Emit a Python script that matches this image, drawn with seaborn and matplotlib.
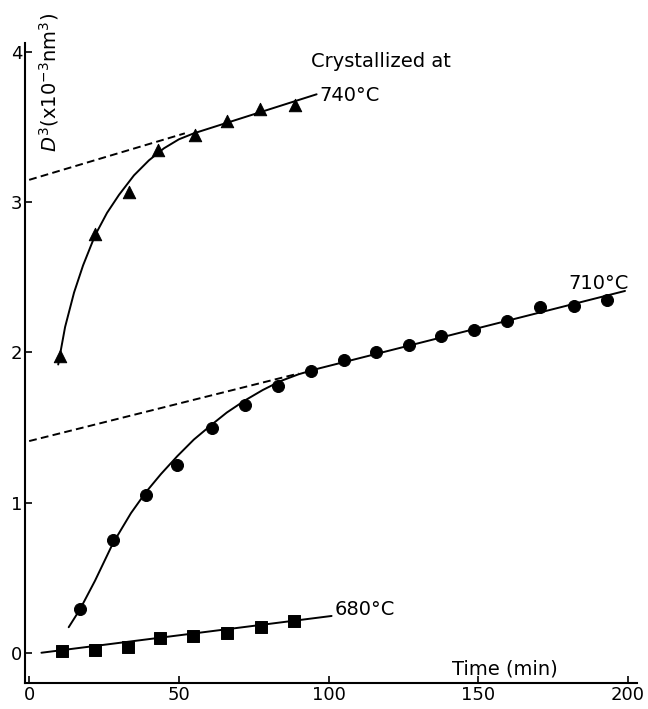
import numpy as np
import pandas as pd
import matplotlib
matplotlib.use("Agg")
import matplotlib.pyplot as plt
import seaborn as sns

time_680 = [10.8, 21.9, 33.0, 43.7, 54.7, 66.0, 77.3, 88.3]
d3_680 = [0.01, 0.02, 0.04, 0.10, 0.11, 0.13, 0.17, 0.21]

time_710 = [17, 28, 39, 49.5, 61, 72, 83, 94, 105, 116, 127, 137.5, 148.5, 159.5, 170.5, 182, 193]
d3_710 = [0.29, 0.75, 1.05, 1.25, 1.50, 1.65, 1.78, 1.88, 1.95, 2.00, 2.05, 2.11, 2.15, 2.21, 2.30, 2.31, 2.35]

time_740 = [10.3, 22, 33.3, 43, 55.3, 66, 77, 88.7]
d3_740 = [1.98, 2.79, 3.07, 3.35, 3.45, 3.54, 3.62, 3.65]

# === Hand-drawn fit curves (traced) ===
fit_680_x = [4.1, 101]
fit_680_y = [0.0, 0.245]

fit_710_x = [13.2, 17, 22, 28, 34, 39, 44, 49.5, 55, 61, 66, 72, 78, 84, 90, 96, 199]
fit_710_y = [0.17, 0.29, 0.48, 0.73, 0.93, 1.07, 1.19, 1.31, 1.42, 1.52, 1.60, 1.68, 1.75, 1.81, 1.855, 1.89, 2.41]

fit_740_x = [9.7, 12, 15, 18, 22, 26, 30, 35, 40, 45, 50, 55, 96]
fit_740_y = [1.92, 2.17, 2.40, 2.58, 2.78, 2.93, 3.05, 3.18, 3.28, 3.36, 3.42, 3.46, 3.72]

# extrapolated linear parts back to t = 0
dash_710_x = [0, 90]
dash_710_y = [1.41, 1.86]
dash_740_x = [0, 52]
dash_740_y = [3.15, 3.46]

x_ticks = [0, 50, 100, 150, 200]
y_ticks = [0, 1, 2, 3, 4]

# === Plot ===
sns.set_style("ticks")
plt.rcParams['font.family'] = ['DejaVu Sans']
plt.rcParams['text.color'] = 'black'
plt.rcParams['xtick.color'] = 'black'
plt.rcParams['ytick.color'] = 'black'
plt.rcParams['axes.edgecolor'] = 'black'

fig = plt.figure(figsize=(6.48, 7.09), dpi=100)
ax = fig.add_axes([0.039, 0.037, 0.944, 0.902])

lw = 1.4
for fx, fy in [(fit_680_x, fit_680_y), (fit_710_x, fit_710_y), (fit_740_x, fit_740_y)]:
    sns.lineplot(x=fx, y=fy, ax=ax, color="black", lw=lw, sort=False, estimator=None)
for dx, dy in [(dash_710_x, dash_710_y), (dash_740_x, dash_740_y)]:
    sns.lineplot(x=dx, y=dy, ax=ax, color="black", lw=lw, sort=False, estimator=None,
                 linestyle=(0, (4, 2.2)))

sns.scatterplot(x=time_680, y=d3_680, ax=ax, marker="s", s=75, color="black", edgecolor="black", zorder=3)
sns.scatterplot(x=time_710, y=d3_710, ax=ax, marker="o", s=75, color="black", edgecolor="black", zorder=3)
sns.scatterplot(x=time_740, y=d3_740, ax=ax, marker="^", s=80, color="black", edgecolor="black", zorder=3)

ax.set_xlim(-1.3, 203)
ax.set_ylim(-0.2, 4.06)
ax.set_xticks(x_ticks)
ax.set_yticks(y_ticks)
ax.tick_params(direction="in", length=5, width=1.2, labelsize=13, pad=2)
sns.despine(ax=ax)
for sp in ["left", "bottom"]:
    ax.spines[sp].set_linewidth(1.5)
ax.set_xlabel("")
ax.set_ylabel("")

fs = 14
ax.text(6.7, 3.8, r"$D^3$(x10$^{-3}$nm$^3$)", rotation=90, ha="center", va="center", fontsize=fs)
ax.text(94, 3.94, "Crystallized at", fontsize=fs, ha="left", va="center")
ax.text(97, 3.71, "740°C", fontsize=fs, ha="left", va="center")
ax.text(180, 2.46, "710°C", fontsize=fs, ha="left", va="center")
ax.text(102, 0.29, "680°C", fontsize=fs, ha="left", va="center")
ax.text(159, -0.11, "Time (min)", fontsize=fs, ha="center", va="center")

fig.savefig("out.png", dpi=100)
